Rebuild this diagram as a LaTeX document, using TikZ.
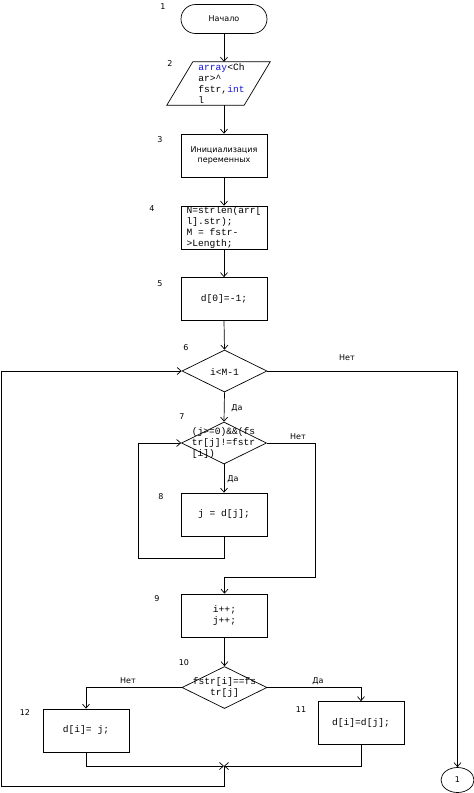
\documentclass[tikz,border=0pt]{standalone}
\usepackage{fontspec}
\usetikzlibrary{arrows.meta,shapes.geometric,shapes.misc}
\newfontfamily\lblfont{DejaVu Sans}
\newfontfamily\codefont{Liberation Mono}
\definecolor{codeblue}{RGB}{20,20,220}
\tikzset{
  base/.style={draw=black, line width=0.7pt, inner sep=0pt},
  boxnode/.style={base, rectangle, minimum width=86pt, minimum height=43pt, align=center, font=\codefont\fontsize{9.6}{10.7}\selectfont},
  decnode/.style={base, diamond, minimum width=85pt, minimum height=42pt},
  code/.style={inner sep=0pt, font=\codefont\fontsize{9.6}{10.7}\selectfont},
  sans/.style={inner sep=0pt, font=\lblfont\fontsize{8}{10}\selectfont},
  num/.style={inner sep=0pt, font=\lblfont\fontsize{8}{10}\selectfont},
  arr/.style={line width=0.7pt, -{Straight Barb[length=4pt,width=7pt]}},
  ln/.style={line width=0.7pt},
}
\begin{document}
\begin{tikzpicture}[x=1pt,y=-1pt]
\useasboundingbox (0,0) rectangle (474,793);
\fill[white] (0,0) rectangle (474,793);

% shapes
\node[base, rounded rectangle, minimum width=86pt, minimum height=29pt, sans] (n1) at (224,19) {Начало};
\node[inner sep=0pt, minimum width=77pt, minimum height=43pt] (n2) at (218.5,83.5) {};
\draw[ln, line join=miter] ([xshift=-13pt]n2.south west) -- ([xshift=13pt]n2.north west) -- ([xshift=13pt]n2.north east) -- ([xshift=-13pt]n2.south east) -- cycle;
\node[code, align=left] (t2) at (221.5,83.5) {\textcolor{codeblue}{array}<Ch\\ar>\^{}\\fstr,\textcolor{codeblue}{int}\\l};
\node[boxnode, font=\lblfont\fontsize{8}{10}\selectfont] (n3) at (224,155.5) {Инициализация\\переменных};
\node[boxnode, align=left] (n4) at (224,227.5) {N=strlen(arr[\\l].str);\\M = fstr-\\>Length;};
\node[boxnode] (n5) at (224,299) {d[0]=-1;};
\node[decnode] (n6) at (224.5,371) {};
\node[code] (t6) at (224.5,372) {i<M-1};
\node[decnode] (n7) at (224,443) {};
\node[code, align=left] (t7) at (223.5,443) {(j>=0)\&\&(fs\\tr[j]!=fstr\\{}[i])};
\node[boxnode] (n8) at (224,514.5) {j = d[j];};
\node[boxnode] (n9) at (224.5,615.5) {i++;\\j++;};
\node[decnode] (n10) at (224.5,687.5) {};
\node[code, align=center] (t10) at (224.5,687.5) {fstr[i]==fs\\tr[j]};
\node[boxnode] (n11) at (361,723) {d[i]=d[j];};
\node[boxnode] (n12) at (86,730.5) {d[i]= j;};
\node[base, ellipse, minimum width=33pt, minimum height=25pt, sans] (n13) at (457.5,780) {1};

% step numbers
\node[num] (l1) at (163,7) {1};
\node[num] (l2) at (170,64) {2};
\node[num] (l3) at (160,140) {3};
\node[num] (l4) at (152,209) {4};
\node[num] (l5) at (160,284) {5};
\node[num] (l6) at (186,348) {6};
\node[num] (l7) at (182,417) {7};
\node[num] (l8) at (161,497) {8};
\node[num] (l9) at (157,599) {9};
\node[num] (l10) at (184,663) {10};
\node[num] (l11) at (301,710) {11};
\node[num] (l12) at (25,713) {12};

% coordinates for connectors
\coordinate (c8) at (138,558);
\coordinate (c7) at (315,577);
\coordinate (m) at (224,766);
\coordinate (c0) at (1,786);

% connectors
\draw[arr] (n1.south) -- (n1.south |- n2.north);
\draw[arr] (n1.south |- n2.south) -- (n3.north);
\draw[arr] (n3.south) -- (n4.north);
\draw[arr] (n4.south) -- (n5.north);
\draw[arr] (n5.south) -- (n6.north);
\draw[arr] (n6.south) -- (n7.north);
\draw[arr] (n7.south) -- (n8.north);
\draw[arr] (n8.south) |- (c8) |- (n7.west);
\draw[arr] (n7.east) -| (c7) -| (n9.north);
\draw[arr] (n9.south) -- (n10.north);
\draw[arr] (n10.west) -| (n12.north);
\draw[arr] (n10.east) -| (n11.north);
\draw[arr] (n12.south) |- (m);
\draw[arr] (n11.south) |- (m);
\draw[arr] (m) |- (c0) |- (n6.west);
\draw[arr] (n6.east) -| (n13.north);

% branch labels
\node[sans] (y6) at (237,408) {Да};
\node[sans] (no6) at (347,358) {Нет};
\node[sans] (no7) at (298,437) {Нет};
\node[sans] (y7) at (233,479) {Да};
\node[sans] (no10) at (128,681) {Нет};
\node[sans] (y10) at (318,681) {Да};
\end{tikzpicture}
\end{document}
